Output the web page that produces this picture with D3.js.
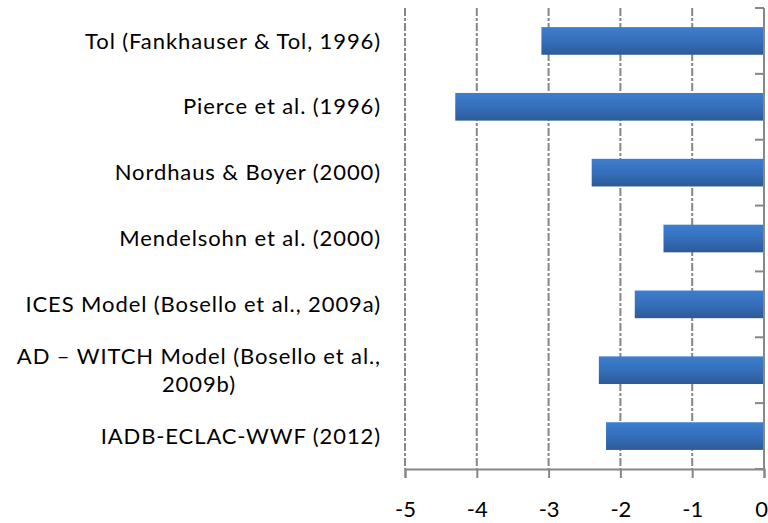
<!DOCTYPE html>
<html>
<head>
<meta charset="utf-8">
<script src="https://cdn.jsdelivr.net/npm/d3@7"></script>
<style>
  html, body { margin: 0; padding: 0; background: #fff; }
  svg { display: block; }
  text { font-family: Lato, "Open Sans", sans-serif; fill: #000; }
</style>
</head>
<body>
<svg id="chart" width="768" height="523"></svg>
<script>
// Study labels (one array entry per line of the label) and estimated impacts
const studies = [
  ["Tol (Fankhauser & Tol, 1996)"],
  ["Pierce et al. (1996)"],
  ["Nordhaus & Boyer (2000)"],
  ["Mendelsohn et al. (2000)"],
  ["ICES Model (Bosello et al., 2009a)"],
  ["AD \u2013 WITCH Model (Bosello et al.,", "2009b)"],
  ["IADB-ECLAC-WWF (2012)"]
];
const impacts = [-3.1, -4.3, -2.4, -1.4, -1.8, -2.3, -2.2];
const xTicks = [-5, -4, -3, -2, -1, 0];

const svg = d3.select("#chart");
const plotLeft = 405, plotRight = 764, plotTop = 8, plotBottom = 469;
const fontFamily = "Lato, 'Open Sans', sans-serif";
const fontSize = 22;
const spacing = "0.9px";

const x = d3.scaleLinear().domain([-5, 0]).range([plotLeft, plotRight]);
const y = d3.scaleBand().domain(d3.range(studies.length)).range([plotTop, plotBottom])
  .paddingInner(0.58).paddingOuter(0.29);
const yBounds = d3.scaleLinear().domain([0, studies.length]).range([plotTop, plotBottom]);

// Bar fill gradient
const grad = svg.append("defs").append("linearGradient")
  .attr("id", "barFill").attr("x1", 0).attr("y1", 0).attr("x2", 0).attr("y2", 1);
grad.append("stop").attr("offset", "0%").attr("stop-color", "#3d7ecf");
grad.append("stop").attr("offset", "55%").attr("stop-color", "#356db8");
grad.append("stop").attr("offset", "100%").attr("stop-color", "#2c5a96");

const grey = "#878787";

// Vertical dashed gridlines
svg.append("g").selectAll("line").data(xTicks.filter(d => d !== 0)).join("line")
  .attr("x1", d => x(d)).attr("x2", d => x(d))
  .attr("y1", plotTop).attr("y2", plotBottom)
  .attr("stroke", grey).attr("stroke-width", 2)
  .attr("stroke-dasharray", "8,2,3,2");

// Bars
svg.append("g").selectAll("rect").data(impacts).join("rect")
  .attr("x", d => x(d))
  .attr("y", (d, i) => y(i))
  .attr("width", d => x(0) - x(d))
  .attr("height", y.bandwidth())
  .attr("fill", "url(#barFill)");

// Bottom value axis
const xAxis = svg.append("g").attr("transform", `translate(0,${plotBottom})`)
  .call(d3.axisBottom(x).tickValues(xTicks).tickSize(9).tickPadding(23)
    .tickFormat(d3.format("d")));
xAxis.select(".domain").attr("stroke", grey).attr("stroke-width", 2);
xAxis.selectAll(".tick line").attr("stroke", grey).attr("stroke-width", 2);
xAxis.selectAll(".tick text").attr("font-size", fontSize)
  .style("font-family", fontFamily).attr("fill", "#000")
  .text(d => d < 0 ? "-" + Math.abs(d) : d)
  .attr("dx", d => d === 0 ? -3 : 0);

// Category axis at zero, with ticks between categories
const yAxis = svg.append("g");
yAxis.append("line").attr("x1", x(0)).attr("x2", x(0))
  .attr("y1", plotTop).attr("y2", plotBottom).attr("stroke", grey).attr("stroke-width", 2);
yAxis.selectAll("line.tk").data(d3.range(studies.length + 1)).join("line")
  .attr("class", "tk")
  .attr("x1", x(0) - 9).attr("x2", x(0))
  .attr("y1", d => yBounds(d)).attr("y2", d => yBounds(d))
  .attr("stroke", grey).attr("stroke-width", 2);

// Category labels, right aligned; wrapped lines centred under the first line
const labelX = 381, lineH = 28;
const labels = svg.append("g").attr("font-size", fontSize).style("letter-spacing", spacing);
studies.forEach((lines, i) => {
  const cy = y(i) + y.bandwidth() / 2;
  const y0 = cy - (lines.length - 1) * lineH / 2;
  const first = labels.append("text")
    .attr("x", labelX).attr("y", y0).attr("dy", "0.35em")
    .attr("text-anchor", "end").text(lines[0]);
  if (lines.length > 1) {
    const w = first.node().getComputedTextLength();
    lines.slice(1).forEach((ln, k) => {
      labels.append("text")
        .attr("x", labelX - w / 2).attr("y", y0 + (k + 1) * lineH).attr("dy", "0.35em")
        .attr("text-anchor", "middle").text(ln);
    });
  }
});
</script>
</body>
</html>
